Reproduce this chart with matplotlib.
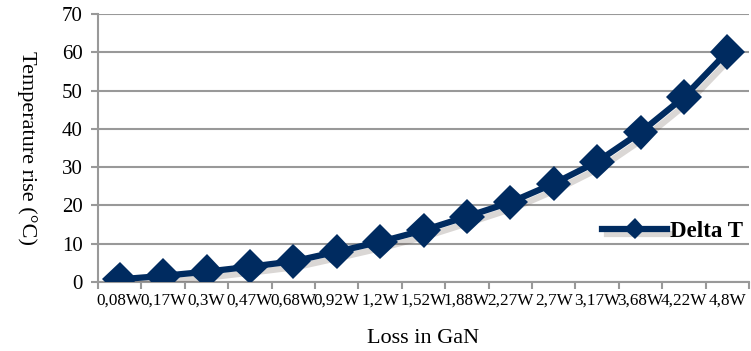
import numpy as np
import matplotlib
matplotlib.use("Agg")
import matplotlib.pyplot as plt
import matplotlib.patheffects as pe

plt.rcParams['font.family'] = ['Liberation Serif', 'DejaVu Serif']

# data
losses = ['0,08W', '0,17W', '0,3W', '0,47W', '0,68W', '0,92W', '1,2W', '1,52W',
          '1,88W', '2,27W', '2,7W', '3,17W', '3,68W', '4,22W', '4,8W']
delta_t = [0.7, 1.6, 2.7, 4.0, 5.4, 7.9, 10.5, 13.5, 17.1, 20.8, 25.7, 31.4, 39.1, 48.3, 60.1]

navy = '#002b60'
grid_c = '#999999'

fig = plt.figure(figsize=(7.51, 3.51), dpi=100)
ax = fig.add_axes([98/751, 1 - 282/351, 651/751, 268/351])

x = np.arange(len(losses))
shadow = [pe.SimpleLineShadow(offset=(3, -4), shadow_color='#5a4a40', alpha=0.22, rho=1.0),
          pe.Normal()]
ax.plot(x, delta_t, color=navy, lw=4.5, marker='D', ms=18, mew=0, mfc=navy,
        label='Delta T', path_effects=shadow, zorder=3)

ax.set_xlim(-0.5, len(losses) - 0.5)
ax.set_ylim(0, 70)
ax.set_yticks(range(0, 71, 10))
ax.yaxis.grid(True, color=grid_c, lw=1.5)
ax.set_axisbelow(True)

ax.set_xticks(x)
ax.set_xticklabels(losses, fontsize=12.3)
ax.set_xticks(np.arange(-0.5, len(losses)), minor=True)
ax.tick_params(axis='x', which='major', length=0, pad=8)
ax.tick_params(axis='x', which='minor', length=5, width=1.5, color=grid_c)
ax.tick_params(axis='y', length=5, width=1.5, color=grid_c, labelsize=15, pad=6)

for s in ['top', 'right']:
    ax.spines[s].set_visible(False)
for s in ['left', 'bottom']:
    ax.spines[s].set_color(grid_c)
    ax.spines[s].set_linewidth(1.5)

ax.set_xlabel('Loss in GaN', fontsize=16, labelpad=14)
ax.set_ylabel('Temperature rise (°C)', fontsize=16, rotation=-90)
ax.yaxis.set_label_coords(-0.125, 0.5)

leg = ax.legend(loc='center right', bbox_to_anchor=(1.005, 0.19), frameon=False,
                prop={'weight': 'bold', 'size': 16.5}, handlelength=2.8, handletextpad=0.15,
                borderaxespad=0, markerscale=0.6)

fig.savefig('out.png', dpi=100)
